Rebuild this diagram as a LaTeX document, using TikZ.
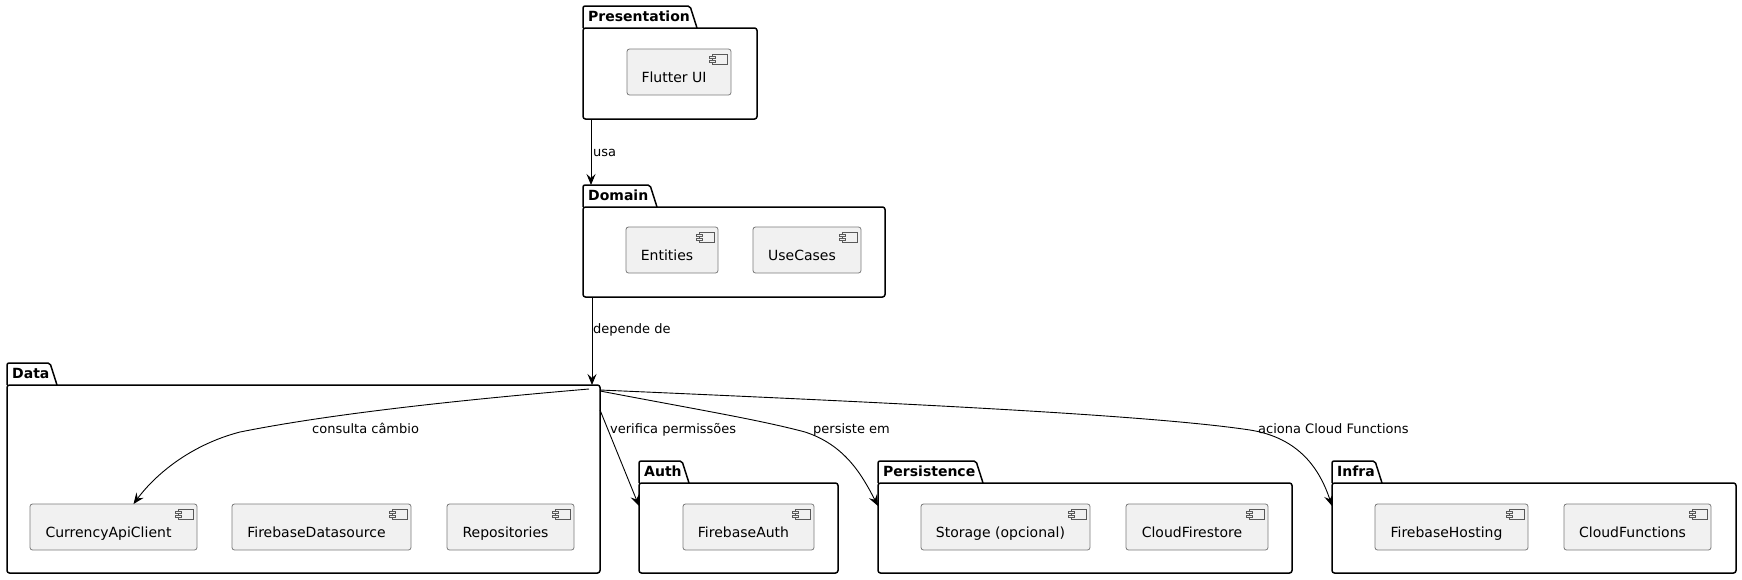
\documentclass[tikz,border=0pt]{standalone}
\usepackage{fontspec}
\setmainfont{DejaVu Sans}
\usetikzlibrary{arrows.meta}

\definecolor{compfill}{HTML}{F1F1F1}
\definecolor{compline}{HTML}{7A7A7A}

\tikzset{
  pkg/.style={draw, line width=1.5pt, rounded corners=2.5pt, inner sep=0pt, outer sep=0pt},
  pkgtitle/.style={anchor=base west, inner sep=0pt, font=\fontsize{14}{16}\selectfont\bfseries},
  comp/.style={draw=compline, fill=compfill, line width=0.8pt, rounded corners=2.5pt,
    minimum height=46pt, inner sep=0pt, outer sep=0pt, font=\fontsize{14}{16}\selectfont,
    path picture={
      \coordinate (ne) at (path picture bounding box.north east);
      \draw[black!65, fill=compfill, line width=0.7pt, sharp corners] ([shift={(-19pt,-5pt)}]ne) rectangle ([shift={(-4pt,-15pt)}]ne);
      \draw[black!65, fill=compfill, line width=0.7pt, sharp corners] ([shift={(-22pt,-7pt)}]ne) rectangle ([shift={(-16pt,-9.5pt)}]ne);
      \draw[black!65, fill=compfill, line width=0.7pt, sharp corners] ([shift={(-22pt,-11pt)}]ne) rectangle ([shift={(-16pt,-13.5pt)}]ne);
    }},
  dep/.style={line width=0.9pt, -{Stealth[length=11pt,width=9pt,inset=4pt]}},
  deplabel/.style={anchor=base west, inner sep=0pt, font=\fontsize{13}{15}\selectfont}
}

\newcommand{\ctext}[1]{\raisebox{-10pt}[0pt][0pt]{#1\hspace{10pt}}}
% package: name, left, top, right, bottom, tab width, title
\newcommand{\pkgbox}[7]{%
  \draw[line width=1.5pt, rounded corners=2pt] (#2,#3) |- ({#2+#6-7},#3-22) -- ({#2+#6},#3);
  \node[pkg, minimum width={(#4-#2)*1pt}, minimum height={(#5-#3)*1pt}] (#1) at ({(#2+#4)/2},{(#3+#5)/2}) {};
  \coordinate (#1-tab) at (#2,#3-22);
  \node[pkgtitle] (#1-title) at (#2+5,#3-7) {#7};
}

\begin{document}
\begin{tikzpicture}[x=1pt, y=-1pt]
\useasboundingbox (0,0) rectangle (1742,579);

% packages
\pkgbox{presentation}{583}{28}{757}{119}{114}{Presentation}
\pkgbox{domain}{583}{207}{885}{297}{74}{Domain}
\pkgbox{data}{7}{385}{600}{573}{50}{Data}
\pkgbox{auth}{639}{483}{838}{573}{50}{Auth}
\pkgbox{persistence}{878}{483}{1292}{573}{105}{Persistence}
\pkgbox{infra}{1332}{483}{1736}{573}{50}{Infra}

% components
\node[comp, minimum width=104pt] (flutter) at (679,72) {\ctext{Flutter UI}};
\node[comp, minimum width=92pt] (entities) at (672,250) {\ctext{Entities}};
\node[comp, minimum width=108pt] (usecases) at (807,250) {\ctext{UseCases}};
\node[comp, minimum width=167pt] (currency) at (113.5,527) {\ctext{CurrencyApiClient}};
\node[comp, minimum width=179pt] (fbsource) at (321.5,527) {\ctext{FirebaseDatasource}};
\node[comp, minimum width=127pt] (repos) at (510.5,527) {\ctext{Repositories}};
\node[comp, minimum width=131pt] (fbauth) at (748.5,527) {\ctext{FirebaseAuth}};
\node[comp, minimum width=169pt] (storage) at (1005.5,527) {\ctext{Storage (opcional)}};
\node[comp, minimum width=142pt] (firestore) at (1197,527) {\ctext{CloudFirestore}};
\node[comp, minimum width=153pt] (hosting) at (1451.5,527) {\ctext{FirebaseHosting}};
\node[comp, minimum width=147pt] (functions) at (1637.5,527) {\ctext{CloudFunctions}};

% dependencies
\draw[dep] ([xshift=8pt]presentation.south west) -- ([xshift=8pt]domain-tab);
\node[deplabel] (usa) at (593,156) {usa};
\draw[dep] ([xshift=9pt]domain.south west) -- ([xshift=-8pt]data.north east);
\node[deplabel] (dependede) at (593,333) {depende de};

\draw[dep] ([shift={(-11pt,-4pt)}]data.north east) .. controls (400,405) and (300,420) .. (240,432)
  .. controls (190,445) and (155,475) .. ([xshift=20pt]currency.north);
\node[deplabel] (consulta) at (312,433) {consulta câmbio};

\draw[dep] ([yshift=-25pt]data.north east) -- ([yshift=-23pt]auth.north west);
\node[deplabel] (verifica) at (610,433) {verifica permissões};

\draw[dep] ([yshift=-6pt]data.north east) .. controls (700,410) and (760,420) .. (805,432)
  .. controls (845,445) and (862,475) .. ([yshift=-23pt]persistence.north west);
\node[deplabel] (persiste) at (813,433) {persiste em};

\draw[dep] ([yshift=-5pt]data.north east) .. controls (900,403) and (1150,415) .. (1250,430)
  .. controls (1300,438) and (1320,470) .. ([yshift=-23pt]infra.north west);
\node[deplabel] (aciona) at (1258,433) {aciona Cloud Functions};
\end{tikzpicture}
\end{document}
